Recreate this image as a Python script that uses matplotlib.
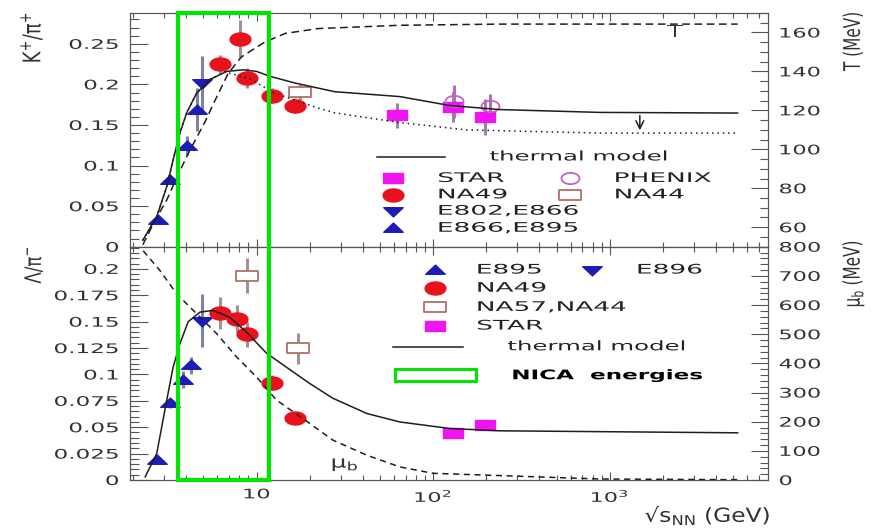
import numpy as np
import matplotlib
matplotlib.use('Agg')
import matplotlib.pyplot as plt
from matplotlib.path import Path
from matplotlib.patches import Rectangle
from matplotlib.patheffects import AbstractPathEffect
from matplotlib.ticker import FixedLocator, MultipleLocator, LogLocator, NullFormatter, FuncFormatter
from matplotlib.transforms import Affine2D, blended_transform_factory

plt.rcParams['font.family'] = ['DejaVu Sans']
plt.rcParams['mathtext.default'] = 'regular'

# ---- data ----
# top panel: K+/pi+
star_kpi_x = [62, 130, 196]
star_kpi_y = [0.162, 0.172, 0.160]
star_kpi_err = [0.0155, 0.0185, 0.022]
phenix_kpi_x = [132, 209]
phenix_kpi_y = [0.179, 0.173]
phenix_kpi_err = [0.02, 0.015]
na49_kpi_x = [6.2, 8.05, 8.77, 12.2, 16.5]
na49_kpi_y = [0.2255, 0.256, 0.208, 0.186, 0.174]
na49_kpi_err = [0.011, 0.023, 0.0125, 0.009, 0.009]
na44_kpi_x = [17.6]
na44_kpi_y = [0.191]
na44_kpi_err = [0.010]
e802_kpi_x = [4.89]
e802_kpi_y = [0.2017]
e802_kpi_err = [0.033]
e895_kpi_x = [2.77, 3.23, 4.02, 4.57]
e895_kpi_y = [0.033, 0.082, 0.1247, 0.169]
e895_kpi_err = [0.003, 0.004, 0.012, 0.027]

kpi_model_x = [2.27, 2.72, 3.10, 3.37, 3.68, 4.02, 4.57, 5.44, 6.77, 8.4, 10.0,
               11.9, 16.5, 27.7, 64.7, 124, 238, 879, 5300]
kpi_model_y = [0.008, 0.037, 0.074, 0.107, 0.140, 0.165, 0.189, 0.206, 0.216, 0.218,
               0.216, 0.210, 0.2017, 0.191, 0.185, 0.174, 0.169, 0.1655, 0.1647]
kpi_alt_x = [2.27, 2.72, 3.10, 3.37, 3.68, 4.02, 4.57, 5.44, 6.6, 9.37, 12.4, 15.0,
             22.2, 27.7, 64.7, 154, 879, 5300]
kpi_alt_y = [0.008, 0.037, 0.074, 0.107, 0.140, 0.165, 0.189, 0.206, 0.2156, 0.206,
             0.190, 0.1836, 0.171, 0.165, 0.153, 0.144, 0.140, 0.140]
temp_x = [2.27, 2.66, 3.10, 3.68, 4.19, 5.10, 5.81, 6.91, 8.22, 11.1, 14.5, 22.2,
          64.7, 238, 5300]
temp_y = [51, 63.5, 74, 89, 99.5, 114, 125, 139, 147.5, 155, 159.5, 162, 163.7,
          164.3, 164.3]
arrow_x = 1480
arrow_y = [0.165, 0.140]

# bottom panel: Lambda/pi
e895_lpi_x = [2.72, 3.23, 3.81, 4.28]
e895_lpi_y = [0.0189, 0.0725, 0.0952, 0.1087]
e895_lpi_err = [0.002, 0.004, 0.008, 0.008]
e896_lpi_x = [4.89]
e896_lpi_y = [0.151]
e896_lpi_err = [0.025]
na49_lpi_x = [6.2, 7.77, 8.77, 12.3, 16.5]
na49_lpi_y = [0.158, 0.1528, 0.138, 0.092, 0.0589]
na49_lpi_err = [0.015, 0.013, 0.012, 0.007, 0.003]
na57_lpi_x = [8.85, 17.1]
na57_lpi_y = [0.1937, 0.1247]
na57_lpi_err = [0.017, 0.015]
star_lpi_x = [130, 196]
star_lpi_y = [0.0441, 0.052]

lpi_model_x = [2.34, 2.72, 3.10, 3.37, 3.68, 4.10, 4.78, 5.68, 7.06, 8.78, 11.4,
               20.0, 27.0, 42.1, 64.7, 124, 238, 5300]
lpi_model_y = [0.003, 0.025, 0.0756, 0.107, 0.129, 0.150, 0.159, 0.1607, 0.154,
               0.140, 0.120, 0.0914, 0.0775, 0.063, 0.055, 0.0488, 0.0466, 0.0447]
mub_x = [2.28, 2.84, 3.53, 4.58, 5.94, 7.71, 10.0, 12.97, 20.0, 27.0, 42.1, 64.7,
         99.4, 879, 5300]
mub_y = [786, 718, 638, 570, 502, 422, 353, 274, 194, 137, 85, 45, 23, 3.4, 1]

nica_range = [3.6, 11.7]

# ---- styles ----
BLUE = '#1c1cb8'
RED = '#e8121c'
MAGENTA = '#f014f0'
PINK = '#c860c8'
BROWN = '#b07068'
GREEN = '#00e600'
CURVE = '#1e1e1e'
AXC = '#555555'
TXT = '#333333'

t = np.linspace(0, 2 * np.pi, 48)
ELLIPSE = Path(np.column_stack([1.6 * np.cos(t), np.sin(t)]), closed=True)
TRI_UP = Path([(-1.8, -0.7), (1.8, -0.7), (0, 1.0), (-1.8, -0.7)], closed=True)
TRI_DOWN = Path([(-1.8, 0.7), (1.8, 0.7), (0, -1.0), (-1.8, 0.7)], closed=True)
RECT = Path([(-1.8, -1), (1.8, -1), (1.8, 1), (-1.8, 1), (-1.8, -1)], closed=True)
WIDE_RECT = Path([(-2.2, -1), (2.2, -1), (2.2, 1), (-2.2, 1), (-2.2, -1)], closed=True)

sty_star = dict(marker=RECT, ms=14, mfc=MAGENTA, mec=MAGENTA)
sty_phenix = dict(marker=ELLIPSE, ms=13, mfc='none', mec=PINK, mew=1.3)
sty_na49 = dict(marker=ELLIPSE, ms=15, mfc=RED, mec=RED)
sty_na44 = dict(marker=WIDE_RECT, ms=16, mfc='white', mec=BROWN, mew=1.3)
sty_down = dict(marker=TRI_DOWN, ms=14, mfc=BLUE, mec=BLUE)
sty_up = dict(marker=TRI_UP, ms=14, mfc=BLUE, mec=BLUE)


class Stretch(AbstractPathEffect):
    """draw text glyphs widened, like the squeezed-in ROOT picture"""

    def __init__(self, sx=1.0, sy=1.0, anchor='left'):
        super().__init__()
        self.sx, self.sy, self.anchor = sx, sy, anchor

    def draw_path(self, renderer, gc, tpath, affine, rgbFace=None):
        ext = tpath.get_extents()
        x0 = {'left': ext.x0, 'right': ext.x1, 'center': 0.5 * (ext.x0 + ext.x1)}[self.anchor]
        y0 = 0.5 * (ext.y0 + ext.y1)
        pre = Affine2D().translate(-x0, -y0).scale(self.sx, self.sy).translate(x0, y0)
        renderer.draw_path(gc, tpath, pre + affine, rgbFace)


W, H = 877, 528
fig = plt.figure(figsize=(W / 100, H / 100), dpi=100)
left, right = 130 / W, 768 / W
y_top, y_mid, y_bot = 1 - 13 / H, 1 - 246.7 / H, 1 - 480 / H
ax_top = fig.add_axes([left, y_mid, right - left, y_top - y_mid])
ax_bot = fig.add_axes([left, y_bot, right - left, y_mid - y_bot], sharex=ax_top)
ax_top_r = ax_top.twinx()
ax_bot_r = ax_bot.twinx()


def points(ax, x, y, err, sty, ecolor):
    ax.errorbar(x, y, yerr=err, linestyle='none', ecolor=ecolor, elinewidth=2.2,
                capsize=0, zorder=3, **sty)


# top panel
points(ax_top, e895_kpi_x, e895_kpi_y, e895_kpi_err, sty_up, '#7a82a8')
points(ax_top, e802_kpi_x, e802_kpi_y, e802_kpi_err, sty_down, '#7a82a8')
points(ax_top, na49_kpi_x, na49_kpi_y, na49_kpi_err, sty_na49, '#a89090')
points(ax_top, na44_kpi_x, na44_kpi_y, na44_kpi_err, sty_na44, '#a89090')
points(ax_top, star_kpi_x, star_kpi_y, star_kpi_err, sty_star, '#a080a8')
points(ax_top, phenix_kpi_x, phenix_kpi_y, phenix_kpi_err, sty_phenix, '#b070b8')
ax_top.plot(kpi_model_x, kpi_model_y, color=CURVE, lw=1.1, zorder=4)
ax_top.plot(kpi_alt_x, kpi_alt_y, color=CURVE, lw=1.1, ls=(0, (1, 2.5)), zorder=4)
ax_top.annotate('', xy=(arrow_x, arrow_y[1]), xytext=(arrow_x, arrow_y[0]),
                arrowprops=dict(arrowstyle='->', color=CURVE, lw=1.1,
                                mutation_scale=14))
ax_top_r.plot(temp_x, temp_y, color=CURVE, lw=1.1, ls=(0, (5, 3)))

# bottom panel
points(ax_bot, e895_lpi_x, e895_lpi_y, e895_lpi_err, sty_up, '#7a82a8')
points(ax_bot, e896_lpi_x, e896_lpi_y, e896_lpi_err, sty_down, '#7a82a8')
points(ax_bot, na49_lpi_x, na49_lpi_y, na49_lpi_err, sty_na49, '#a89090')
points(ax_bot, na57_lpi_x, na57_lpi_y, na57_lpi_err, sty_na44, '#a89090')
ax_bot.plot(star_lpi_x, star_lpi_y, linestyle='none', zorder=3, **sty_star)
ax_bot.plot(lpi_model_x, lpi_model_y, color=CURVE, lw=1.1, zorder=4)
ax_bot_r.plot(mub_x, mub_y, color=CURVE, lw=1.1, ls=(0, (4, 3)))

# axes setup
for ax in (ax_top, ax_bot):
    ax.set_xscale('log')
    ax.set_xlim(1.92, 7870)
    ax.xaxis.set_major_locator(FixedLocator([10, 100, 1000]))
    ax.xaxis.set_minor_locator(LogLocator(base=10, subs=np.arange(2, 10)))
    ax.xaxis.set_minor_formatter(NullFormatter())
    ax.tick_params(which='both', direction='in', top=True, bottom=True,
                   left=True, right=False, color=AXC, width=0.8,
                   labelcolor=TXT, labelsize=9.5, pad=8)
    ax.tick_params(axis='x', which='major', length=6)
    ax.tick_params(axis='x', which='minor', length=3.5)
    ax.tick_params(axis='y', which='major', length=13)
    ax.tick_params(axis='y', which='minor', length=6.5)
    for sp in ax.spines.values():
        sp.set_color(AXC)
ax_bot.xaxis.set_major_formatter(FuncFormatter(
    lambda v, p: {10: '10', 100: '$10^2$', 1000: '$10^3$'}.get(int(round(v)), '')))
ax_top.tick_params(labelbottom=False)
ax_bot.tick_params(axis='x', pad=6)

ax_top.set_ylim(0, 0.288)
ax_top.yaxis.set_major_locator(MultipleLocator(0.05))
ax_top.yaxis.set_minor_locator(MultipleLocator(0.01))
ax_top.yaxis.set_major_formatter(FuncFormatter(lambda v, p: '0' if abs(v) < 1e-9 else f'{v:g}'))
ax_bot.set_ylim(0, 0.221)
ax_bot.yaxis.set_major_locator(MultipleLocator(0.025))
ax_bot.yaxis.set_minor_locator(MultipleLocator(0.005))
ax_bot.yaxis.set_major_formatter(FuncFormatter(lambda v, p: '0' if abs(v) < 1e-9 else f'{v:g}'))

ax_top_r.set_ylim(50, 170)
ax_top_r.yaxis.set_major_locator(FixedLocator([60, 80, 100, 120, 140, 160]))
ax_top_r.yaxis.set_minor_locator(MultipleLocator(5))
ax_bot_r.set_ylim(0, 800)
ax_bot_r.yaxis.set_major_locator(MultipleLocator(100))
ax_bot_r.yaxis.set_minor_locator(MultipleLocator(20))
for ax in (ax_top_r, ax_bot_r):
    ax.tick_params(which='both', direction='in', right=True, left=False,
                   color=AXC, width=0.8, labelcolor=TXT, labelsize=9.5, pad=8)
    ax.tick_params(which='major', length=12)
    ax.tick_params(which='minor', length=6)
    for sp in ax.spines.values():
        sp.set_color(AXC)

# axis titles
lab = fig.text(32 / W, 1 - 12 / H, 'K$^{+}$/π$^{+}$', rotation=90, ha='center',
               va='top', fontsize=13, color=TXT)
lab.set_path_effects([Stretch(sy=1.35, anchor='center')])
lab = fig.text(34 / W, 1 - 246 / H, 'Λ/π$^{-}$', rotation=90, ha='center', va='top',
               fontsize=12, color=TXT)
lab.set_path_effects([Stretch(sy=1.35, anchor='center')])
lab = fig.text(853 / W, 1 - 12 / H, 'T (MeV)', rotation=90, ha='center', va='top',
               fontsize=11, color=TXT)
lab.set_path_effects([Stretch(sy=1.5, anchor='center')])
lab = fig.text(853 / W, 1 - 240 / H, 'μ$_b$ (MeV)', rotation=90, ha='center',
               va='top', fontsize=11, color=TXT)
lab.set_path_effects([Stretch(sy=1.5, anchor='center')])
lab = fig.text(771 / W, 1 - 522 / H, '√s$_{NN}$ (GeV)', ha='right', va='baseline',
               fontsize=14, color=TXT)
lab.set_path_effects([Stretch(sx=1.2, anchor='right')])
lab = ax_top.text(0.854, 0.92, 'T', transform=ax_top.transAxes, ha='center',
                  va='center', fontsize=12, color=TXT)
lab.set_path_effects([Stretch(sx=1.5, anchor='center')])
lab = ax_bot.text(0.337, 0.066, 'μ$_b$', transform=ax_bot.transAxes, ha='center',
                  va='center', fontsize=12, color=TXT)
lab.set_path_effects([Stretch(sx=1.5, anchor='center')])

# NICA band across both panels
band = blended_transform_factory(ax_bot.transData, fig.transFigure)
fig.add_artist(Rectangle((nica_range[0], y_bot), nica_range[1] - nica_range[0],
                         y_top - y_bot, transform=band, fill=False,
                         edgecolor=GREEN, lw=3, zorder=10))


# hand placed legends (ROOT style)
def key_text(ax, x, y, label, size=9.5, sx=2.0, **kw):
    txt = ax.text(x, y, label, transform=ax.transAxes, va='center', fontsize=size,
                  color=kw.pop('color', '#222222'), **kw)
    txt.set_path_effects([Stretch(sx=sx, anchor='left')])


def key(ax, x, y, tx, label, sty):
    ax.plot([x], [y], transform=ax.transAxes, clip_on=False, linestyle='none', **sty)
    key_text(ax, tx, y, label)


ax_top.plot([0.387, 0.494], [0.384, 0.384], transform=ax_top.transAxes,
            color=CURVE, lw=1.1)
key_text(ax_top, 0.564, 0.384, 'thermal model', sx=1.85)
key(ax_top, 0.412, 0.292, 0.483, 'STAR', sty_star)
key(ax_top, 0.412, 0.222, 0.483, 'NA49', sty_na49)
key(ax_top, 0.412, 0.152, 0.483, 'E802,E866', sty_down)
key(ax_top, 0.412, 0.079, 0.483, 'E866,E895', sty_up)
key(ax_top, 0.690, 0.292, 0.760, 'PHENIX', sty_phenix)
key(ax_top, 0.690, 0.222, 0.760, 'NA44', sty_na44)

key(ax_bot, 0.478, 0.900, 0.544, 'E895', sty_up)
key(ax_bot, 0.724, 0.900, 0.795, 'E896', sty_down)
key(ax_bot, 0.478, 0.822, 0.544, 'NA49', sty_na49)
key(ax_bot, 0.478, 0.740, 0.544, 'NA57,NA44', sty_na44)
key(ax_bot, 0.478, 0.660, 0.544, 'STAR', sty_star)
ax_bot.plot([0.412, 0.522], [0.571, 0.571], transform=ax_bot.transAxes,
            color=CURVE, lw=1.1)
key_text(ax_bot, 0.592, 0.571, 'thermal model', sx=1.85)
ax_bot.add_patch(Rectangle((0.415, 0.426), 0.127, 0.05, transform=ax_bot.transAxes,
                           fill=False, edgecolor=GREEN, lw=2.2))
key_text(ax_bot, 0.599, 0.447, 'NICA  energies', size=9.5, sx=1.75,
         fontweight='bold', color='black')

# widen the tick numbers the same way once the ticks exist
fig.canvas.draw()
for ax in (ax_top, ax_bot, ax_top_r, ax_bot_r):
    for tk in ax.yaxis.get_major_ticks():
        tk.label1.set_path_effects([Stretch(sx=1.75, anchor='right')])
        tk.label2.set_path_effects([Stretch(sx=1.7, anchor='left')])
for tk in ax_bot.xaxis.get_major_ticks():
    tk.label1.set_path_effects([Stretch(sx=1.7, anchor='center')])

fig.savefig('out.png', dpi=100)
